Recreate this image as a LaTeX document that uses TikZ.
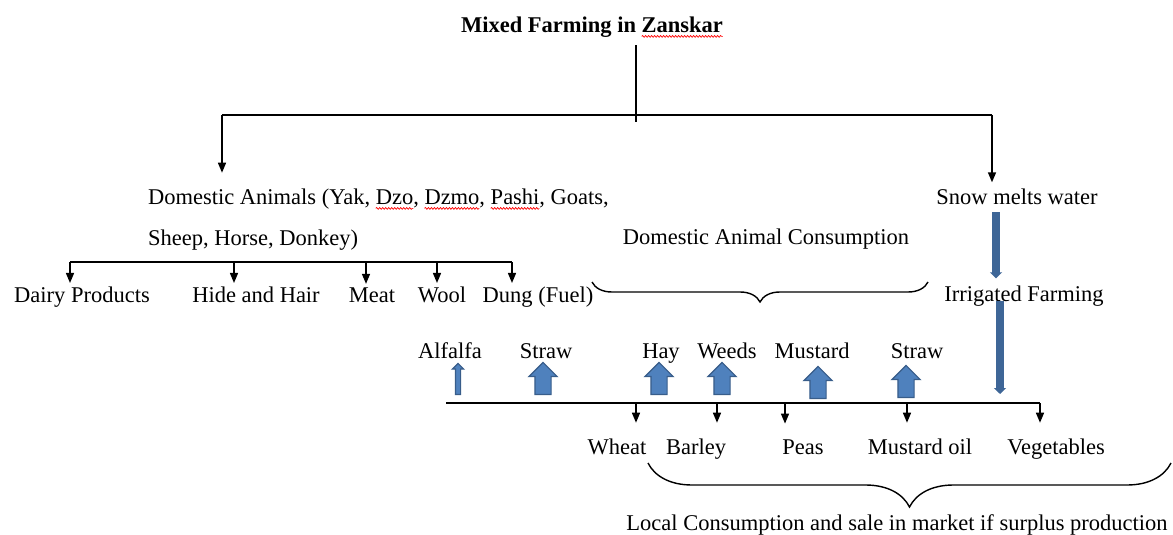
\documentclass[tikz,border=0pt]{standalone}
\usepackage{fontspec}
\setmainfont{Liberation Serif}
\usepackage{xcolor}
\usetikzlibrary{arrows.meta}
\usetikzlibrary{shapes.arrows}
\usetikzlibrary{decorations.pathreplacing}
\usetikzlibrary{decorations.pathmorphing}

\definecolor{fillblue}{HTML}{4F81BD}
\definecolor{edgeblue}{HTML}{385D8A}

\newsavebox{\squigbox}
\newlength{\squigwd}
\newcommand{\squig}[1]{\sbox{\squigbox}{#1}\setlength{\squigwd}{\wd\squigbox}%
  \rlap{\tikz[overlay]\draw[red,line width=0.35pt,decorate,decoration={snake,amplitude=0.45pt,segment length=1.5pt}] (0pt,-1.7pt) -- (\squigwd,-1.7pt);}%
  \usebox{\squigbox}}

\begin{document}
\begin{tikzpicture}[x=0.5pt,y=-0.5pt,
    txt/.style={font=\fontsize{11.25}{13.5}\selectfont,anchor=base},
    prod/.style={txt,inner ysep=1.5pt},
    crop/.style={txt,outer ysep=4.5pt},
    bar/.style={line width=0.7pt},
    arr/.style={line width=0.7pt,-{Triangle[width=4pt,length=5pt]}},
    curly/.style={decorate,decoration={brace,amplitude=#1},line width=0.7pt},
    upblock/.style={single arrow,shape border rotate=90,anchor=tail,
        fill=fillblue,draw=edgeblue,line width=0.6pt,inner sep=3.75pt,
        single arrow head extend=3pt,minimum height=16pt},
    upthin/.style={upblock,inner sep=1pt,single arrow head extend=1.5pt,minimum height=15.5pt},
    water/.style={line width=3.8pt,draw=edgeblue!75!fillblue,-{Triangle[width=6pt,length=3pt]}}]
    \useasboundingbox (0,0) rectangle (1173,535);

        \node[txt] (title) at (592,33) {\bfseries Mixed Farming in \squig{Zanskar}};

        \coordinate (hub) at (636,122);
        \coordinate (branchL) at (222,115);
        \coordinate (branchR) at (992,115);
        \draw[bar] (title.south -| hub) -- (hub);
        \draw[bar] (branchL) -- (branchR);

        \node[txt,anchor=base west,outer ysep=5pt] (animals) at (141,205)
            {Domestic Animals (Yak, \squig{Dzo}, \squig{Dzmo}, \squig{Pashi}, Goats,};
        \node[txt,anchor=base west] (animalsb) at (141,245) {Sheep, Horse, Donkey)};
        \node[txt] (snow) at (1017,205) {Snow melts water};

        \draw[arr] (branchL) -- (branchL |- animals.north);
        \draw[arr] (branchR) -- (branchR |- snow.north);

        \node[prod] (dairy) at (82,302) {Dairy Products};
        \node[prod] (hide) at (256,302) {Hide and Hair};
        \node[prod] (meat) at (372,302) {Meat};
        \node[prod] (wool) at (442,302) {Wool};
        \node[prod] (dung) at (538,302) {Dung (Fuel)};

        \draw[bar] (70,262) -- (512,262);
        \foreach \x/\n in {70/dairy,234/hide,366/meat,437/wool,512/dung}
            \draw[arr] (\x,262) -- (\x,0 |- \n.north);

        \node[txt] (cons) at (766,244) {Domestic Animal Consumption};
        \coordinate (consR) at (928,282);
        \coordinate (consL) at (592,282);
        \draw[curly=10pt] (consR) -- (consL);

        \node[txt] (irr) at (1024,301) {Irrigated Farming};
        \coordinate (field) at (1000,394);
        \draw[water] ([xshift=-10.5pt]snow.south) -- ([xshift=-14pt]irr.north);
        \draw[water] ([xshift=-12pt,yshift=6pt]irr.south) -- (field);

        \node[txt] (alfalfa) at (450,358) {Alfalfa};
        \node[txt] (strawA) at (546,358) {Straw};
        \node[txt] (hay) at (661,358) {Hay};
        \node[txt] (weeds) at (727,358) {Weeds};
        \node[txt] (mustard) at (812,358) {Mustard};
        \node[txt] (strawB) at (917,358) {Straw};

        \node[upthin] (upA) at (458,395) {};
        \foreach \n/\x/\y in {upB/543/395,upC/659/395,upD/722/395,upE/818/399,upF/906/398}
            \node[upblock] (\n) at (\x,\y) {};

        \draw[bar] (446,403) -- (1040,403);
        \node[crop] (wheat) at (617,454) {Wheat};
        \node[crop] (barley) at (696,454) {Barley};
        \node[crop] (peas) at (803,454) {Peas};
        \node[crop] (oil) at (920,454) {Mustard oil};
        \node[crop] (veg) at (1056,454) {Vegetables};
        \foreach \x/\n in {636/wheat,717/barley,785/peas,907/oil,1040/veg}
            \draw[arr] (\x,403) -- (\x,0 |- \n.north);

        \coordinate (localR) at (1171,463);
        \coordinate (localL) at (648,463);
        \draw[curly=22pt] (localR) -- (localL);
        \node[txt] (local) at (897,530) {Local Consumption and sale in market if surplus production};

\end{tikzpicture}
\end{document}
